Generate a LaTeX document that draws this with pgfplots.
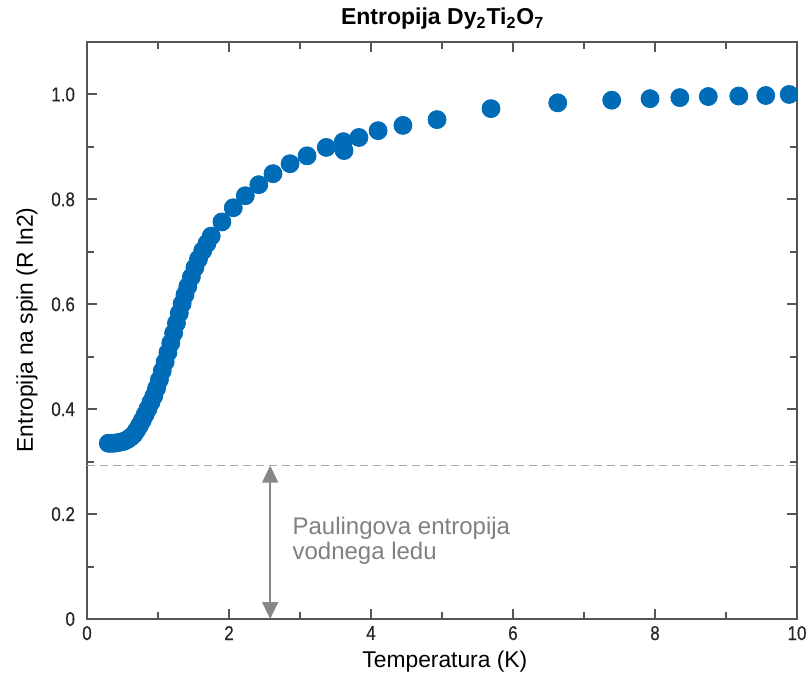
\documentclass[border=0pt]{standalone}
\usepackage{pgfplots}
\pgfplotsset{compat=1.18}
\usepackage{fontspec}
\setmainfont{Liberation Sans}
\newfontfamily\tickfont[FakeStretch=0.85,FakeBold=0.4]{Liberation Sans}
\usetikzlibrary{arrows.meta}
\definecolor{ptblue}{RGB}{0,107,182}
\definecolor{framegray}{RGB}{85,85,85}
\definecolor{dashgray}{RGB}{170,170,170}
\definecolor{arrowgray}{RGB}{135,135,135}
\definecolor{txtgray}{RGB}{128,128,128}
\begin{document}
\begin{tikzpicture}
\begin{axis}[
  scale only axis, width=355pt, height=288.5pt,
  xmin=0, xmax=10, ymin=0, ymax=1.1,
  xtick={0,2,4,6,8,10},
  ytick={0,0.2,0.4,0.6,0.8,1.0},
  yticklabels={0,0.2,0.4,0.6,0.8,1.0},
  minor x tick num=1, minor y tick num=1,
  tick align=inside,
  major tick length=5pt, minor tick length=3.5pt,
  axis line style={framegray, line width=1pt},
  every tick/.style={framegray, line width=1pt},
  /pgf/number format/assume math mode=true,
  tick label style={font={\fontsize{10}{12}\selectfont\tickfont}, text=black!85},
  yticklabel style={xshift=-2.5pt},
  title={\textbf{Entropija Dy\textsubscript{2}Ti\textsubscript{2}O\textsubscript{7}}},
  title style={at={(axis description cs:0.501,1)}, anchor=center, yshift=5.5pt, font=\fontsize{11.5}{13}\selectfont},
  xlabel={Temperatura (K)},
  ylabel={Entropija na spin (R ln2)},
  label style={font=\fontsize{11.4}{13}\selectfont},
  xlabel style={at={(axis description cs:0.504,0)}, anchor=center, yshift=-21.5pt},
  ylabel style={at={(axis description cs:-0.0845,0.501)}, anchor=center, rotate=0},
  clip marker paths=true,
]
\draw[dashgray, line width=0.65pt, dash pattern=on 4pt off 2.5pt] (axis cs:0,0.2925) -- (axis cs:10,0.2925);
\draw[arrowgray, line width=0.75pt, {Triangle[width=8pt,length=8.5pt]}-{Triangle[width=8pt,length=8.5pt]}] (axis cs:2.58,0) -- (axis cs:2.58,0.2925);
\node[anchor=base west, text=txtgray, font=\fontsize{12}{13}\selectfont, inner sep=0pt] at (axis cs:2.89,0.161) {Paulingova entropija};
\node[anchor=base west, text=txtgray, font=\fontsize{12}{13}\selectfont, inner sep=0pt] at (axis cs:2.89,0.113) {vodnega ledu};
\addplot[only marks, mark=*, mark size=4.5pt, color=ptblue, mark options={fill=ptblue, draw=ptblue}] coordinates {
(0.30,0.335) (0.34,0.335) (0.38,0.335) (0.42,0.336) (0.46,0.337) (0.50,0.338)
(0.54,0.340) (0.58,0.343) (0.62,0.347) (0.66,0.352) (0.70,0.360) (0.74,0.369)
(0.78,0.379) (0.82,0.390) (0.86,0.401) (0.90,0.413) (0.94,0.425) (0.98,0.440)
(1.02,0.456) (1.06,0.473) (1.10,0.490) (1.14,0.508) (1.18,0.526) (1.22,0.545)
(1.26,0.564) (1.30,0.583) (1.34,0.601) (1.38,0.618) (1.42,0.634) (1.47,0.652)
(1.52,0.670) (1.57,0.686) (1.63,0.702) (1.69,0.716) (1.75,0.730)
(1.90,0.757) (2.06,0.784) (2.23,0.807) (2.42,0.828) (2.62,0.849) (2.86,0.868)
(3.10,0.883) (3.37,0.899) (3.61,0.910) (3.62,0.893) (3.83,0.918) (4.10,0.931)
(4.45,0.941) (4.93,0.952) (5.69,0.973) (6.63,0.984) (7.39,0.989) (7.93,0.992)
(8.35,0.994) (8.75,0.996) (9.18,0.997) (9.56,0.998) (9.89,1.000)
};
\end{axis}
\pgfresetboundingbox
\path ([shift={(-43.5pt,-30.5pt)}]current axis.south west) rectangle ([shift={(7pt,21pt)}]current axis.north east);
\end{tikzpicture}
\end{document}
